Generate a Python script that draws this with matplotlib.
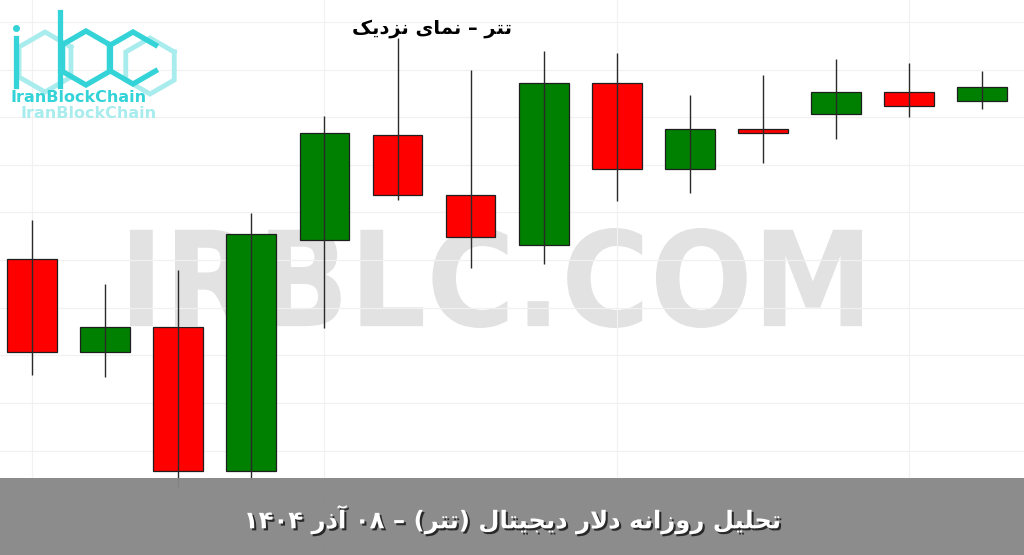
import re
import numpy as np
import matplotlib
matplotlib.use("Agg")
import matplotlib.pyplot as plt
import matplotlib.patheffects as pe
from matplotlib.patches import Rectangle, PathPatch
from matplotlib.lines import Line2D
from matplotlib.textpath import TextPath
from matplotlib.font_manager import FontProperties
from matplotlib.transforms import Affine2D

# daily USDT candles (Toman)
opens = [119020, 117070, 117600, 114570, 119420, 121630, 120370, 119320, 122720, 120910, 121750, 122070, 122530, 122340]
highs = [119840, 118500, 118790, 119990, 122030, 123660, 122990, 123390, 123350, 122470, 122890, 123220, 123140, 122970]
lows = [116590, 116550, 114210, 114380, 117570, 120260, 118830, 118920, 120240, 120410, 121040, 121540, 122000, 122170]
closes = [117070, 117600, 114570, 119550, 121670, 120370, 119490, 122720, 120910, 121750, 121670, 122530, 122240, 122640]

title_text = "تتر – نمای نزدیک"
banner_text = "تحلیل روزانه دلار دیجیتال (تتر) – ۰۸ آذر ۱۴۰۴"
watermark = "IRBLC.COM"
brand = "IranBlockChain"

W, H = 1024, 555

# contextual forms: isolated, final, initial, medial
FORMS = {
    "ا": ("\uFE8D", "\uFE8E"), "آ": ("\uFE81", "\uFE82"),
    "د": ("\uFEA9", "\uFEAA"), "ذ": ("\uFEAB", "\uFEAC"),
    "ر": ("\uFEAD", "\uFEAE"), "ز": ("\uFEAF", "\uFEB0"),
    "و": ("\uFEED", "\uFEEE"),
    "ت": ("\uFE95", "\uFE96", "\uFE97", "\uFE98"),
    "ج": ("\uFE9D", "\uFE9E", "\uFE9F", "\uFEA0"),
    "ح": ("\uFEA1", "\uFEA2", "\uFEA3", "\uFEA4"),
    "ل": ("\uFEDD", "\uFEDE", "\uFEDF", "\uFEE0"),
    "م": ("\uFEE1", "\uFEE2", "\uFEE3", "\uFEE4"),
    "ن": ("\uFEE5", "\uFEE6", "\uFEE7", "\uFEE8"),
    "ه": ("\uFEE9", "\uFEEA", "\uFEEB", "\uFEEC"),
    "ی": ("\uFBFC", "\uFBFD", "\uFBFE", "\uFBFF"),
    "ک": ("\uFB8E", "\uFB8F", "\uFB90", "\uFB91"),
}
LAM_ALEF = {"ا": ("\uFEFB", "\uFEFC"), "آ": ("\uFEF5", "\uFEF6")}


def farsi(s):
    out = []
    i = 0
    while i < len(s):
        c = s[i]
        if c not in FORMS:
            out.append(c)
            i += 1
            continue
        prev = s[i - 1] if i > 0 else ""
        joins_prev = prev in FORMS and len(FORMS[prev]) == 4
        nxt = s[i + 1] if i + 1 < len(s) else ""
        if c == "ل" and nxt in LAM_ALEF:
            out.append(LAM_ALEF[nxt][1 if joins_prev else 0])
            i += 2
            continue
        f = FORMS[c]
        joins_next = len(f) == 4 and nxt in FORMS
        if joins_prev and joins_next:
            out.append(f[3])
        elif joins_prev:
            out.append(f[1])
        elif joins_next:
            out.append(f[2])
        else:
            out.append(f[0])
        i += 1
    tokens = re.findall(r"[0-9\u06F0-\u06F9]+|.", "".join(out))
    mirror = {"(": ")", ")": "("}
    return "".join(mirror.get(t, t) for t in reversed(tokens))


def fx(x):
    return x / W


def fy(y):
    return 1 - y / H


fig = plt.figure(figsize=(W / 100, H / 100), dpi=100)
fig.patch.set_facecolor("white")
ax = fig.add_axes([0, 0, 1, 1])

x = np.arange(len(opens))
ax.set_xlim(-0.438, 13.57)
ax.set_ylim(112807, 124462)

# faint grid
ax.set_yticks(np.arange(113000, 124001, 1000))
ax.set_xticks(x[::4])
ax.grid(color="#f1f1f1", lw=0.9, zorder=0)
ax.tick_params(length=0, labelbottom=False, labelleft=False)
for s in ax.spines.values():
    s.set_visible(False)

# watermark
tp = TextPath((0, 0), watermark, size=100, prop=FontProperties(family="DejaVu Sans", weight="bold"))
ext = tp.get_extents()
x0, x1, y0, y1 = fx(130), fx(862), fy(328), fy(228)
tr = Affine2D().translate(-ext.x0, -ext.y0).scale((x1 - x0) / ext.width, (y1 - y0) / ext.height).translate(x0, y0)
wm = PathPatch(tr.transform_path(tp), facecolor="#e2e2e2", edgecolor="none", transform=fig.transFigure, zorder=1)
ax.add_patch(wm)

# candles
for i in range(len(opens)):
    o, h, l, c = opens[i], highs[i], lows[i], closes[i]
    col = "#008000" if c >= o else "#ff0000"
    ax.bar(x[i], abs(c - o), bottom=min(o, c), width=0.68, color=col,
           edgecolor="#1e1e1e", linewidth=0.9, zorder=2)
    ax.vlines(x[i], l, h, color="#2a2a2a", lw=1.0, zorder=3)

fig.text(fx(432), fy(28), farsi(title_text), ha="center", va="center",
         fontsize=14, fontweight="bold", color="black", family="DejaVu Sans")

# logo
cyan, light = "#33d3d8", "#a9eced"


def hexline(cx, cy, r, color, lw, open_right=False):
    ang = np.radians([30, 90, 150, 210, 270, 330, 30])
    if open_right:
        ang = ang[:-1]
    xs = [fx(cx + r * np.cos(a)) for a in ang]
    ys = [fy(cy - r * np.sin(a)) for a in ang]
    fig.add_artist(Line2D(xs, ys, color=color, lw=lw, solid_joinstyle="miter"))


hexline(45, 62, 30, light, 3.5)
hexline(150, 66, 28, light, 3.5)
hexline(86, 58, 27, cyan, 3.8)
hexline(133, 58, 26, cyan, 3.8, open_right=True)
fig.add_artist(Line2D([fx(60), fx(60)], [fy(12), fy(86)], color=cyan, lw=3.8))
fig.add_artist(Line2D([fx(16), fx(16)], [fy(38), fy(86)], color=cyan, lw=3.8))
fig.add_artist(Line2D([fx(16)], [fy(28)], marker="o", ms=4, color=cyan))
fig.text(fx(10), fy(97), brand, ha="left", va="center", fontsize=11.5,
         fontweight="bold", color=cyan)
fig.text(fx(20), fy(113), brand, ha="left", va="center", fontsize=11.5,
         fontweight="bold", color=light)

# bottom banner
fig.add_artist(Rectangle((0, 0), 1, fy(478), transform=fig.transFigure,
                         facecolor="#878787", edgecolor="none", alpha=0.96, zorder=4))
fig.text(0.5, fy(520), farsi(banner_text), ha="center", va="center", fontsize=17.5,
         fontweight="bold", color="white", family="DejaVu Sans", zorder=5,
         path_effects=[pe.withSimplePatchShadow(offset=(1.5, -1.5), shadow_rgbFace="black", alpha=0.7)])

fig.savefig("out.png", dpi=100, facecolor="white")
